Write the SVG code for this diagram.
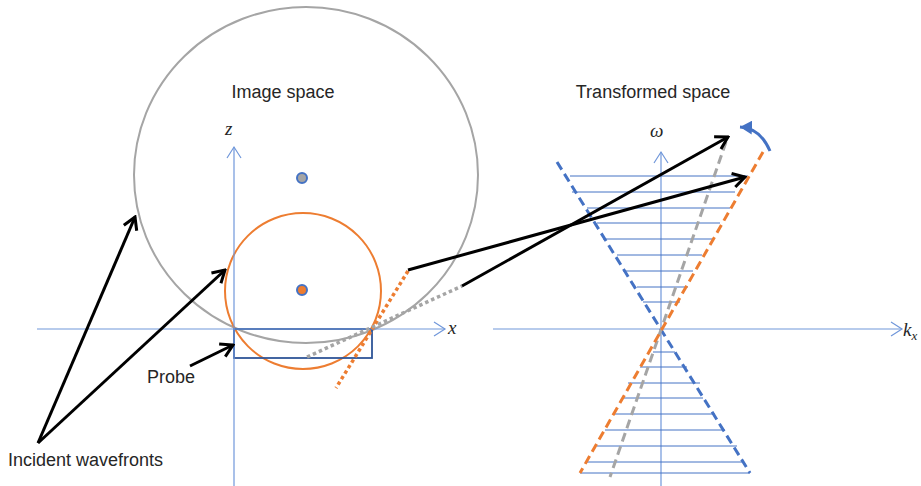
<svg xmlns="http://www.w3.org/2000/svg" width="921" height="486" viewBox="0 0 921 486">
<defs>
<style>
.lbl{font-family:"Liberation Sans",Arial,sans-serif;font-size:18px;fill:#262626}
.math{font-family:"Liberation Serif","DejaVu Serif",serif;font-style:italic;font-size:19px;fill:#262626}
.axis{stroke:#7097DA;stroke-width:1.2;fill:none}
.hl{stroke:#4472C4;stroke-width:1;fill:none}
.blk{stroke:#000;stroke-width:3;fill:none}
.dash{stroke-width:3;stroke-dasharray:9 5;fill:none}
.dot{stroke-width:3.5;stroke-dasharray:3.5 3;fill:none}
</style>
<marker id="axArr" markerUnits="userSpaceOnUse" markerWidth="14" markerHeight="16" refX="12" refY="8" orient="auto">
<path d="M1,1 L12,8 L1,15" fill="none" stroke="#7097DA" stroke-width="1.2"/>
</marker>
<marker id="bkArr" markerUnits="userSpaceOnUse" markerWidth="16" markerHeight="18" refX="14" refY="9" orient="auto">
<path d="M2,2 L14,9 L2,16" fill="none" stroke="#000" stroke-width="3" stroke-linejoin="miter"/>
</marker>
<marker id="blArr" markerUnits="userSpaceOnUse" markerWidth="14" markerHeight="14" refX="12" refY="7" orient="auto">
<path d="M0,0 L12,7 L0,14 Z" fill="#4472C4"/>
</marker>
</defs>

<g id="image-space">
<ellipse id="gray-circle" cx="306" cy="175" rx="172" ry="168" fill="none" stroke="#A5A5A5" stroke-width="2"/>
<circle id="orange-circle" cx="303" cy="291" r="78" fill="none" stroke="#ED7D31" stroke-width="2"/>
<rect id="probe-rect" x="234" y="329" width="138" height="29" fill="none" stroke="#2F5597" stroke-width="1.8"/>
<circle id="gray-dot" cx="302" cy="178" r="5" fill="#A5A5A5" stroke="#4472C4" stroke-width="2"/>
<circle id="orange-dot" cx="302" cy="290" r="5" fill="#ED7D31" stroke="#4472C4" stroke-width="2"/>
<text class="lbl" x="283" y="98" text-anchor="middle">Image space</text>
</g>

<g id="left-axes">
<line class="axis" x1="37" y1="329" x2="445" y2="329" marker-end="url(#axArr)"/>
<line class="axis" x1="234" y1="486" x2="234" y2="147" marker-end="url(#axArr)"/>
<text class="math" x="225" y="135">z</text>
<text class="math" x="448" y="334">x</text>
</g>

<g id="right-axes">
<line class="axis" x1="493" y1="329" x2="902" y2="329" marker-end="url(#axArr)"/>
<line class="axis" x1="661" y1="486" x2="661" y2="152" marker-end="url(#axArr)"/>
<text class="math" x="650" y="137">ω</text>
<text class="math" x="903" y="336">k<tspan font-size="13" dy="4">x</tspan></text>
</g>

<g id="transformed-space">
<text class="lbl" x="653" y="98" text-anchor="middle">Transformed space</text>
<g id="slices">
<line class="hl" x1="570" y1="176" x2="748" y2="176"/>
<line class="hl" x1="572" y1="192" x2="735" y2="192"/>
<line class="hl" x1="587" y1="208" x2="730" y2="208"/>
<line class="hl" x1="597" y1="223" x2="720" y2="223"/>
<line class="hl" x1="603" y1="239" x2="713" y2="239"/>
<line class="hl" x1="617" y1="255" x2="702" y2="255"/>
<line class="hl" x1="623" y1="271" x2="693" y2="271"/>
<line class="hl" x1="637" y1="287" x2="688" y2="287"/>
<line class="hl" x1="643" y1="302" x2="680" y2="302"/>
<line class="hl" x1="653" y1="352" x2="675" y2="352"/>
<line class="hl" x1="640" y1="367" x2="687" y2="367"/>
<line class="hl" x1="628" y1="383" x2="700" y2="383"/>
<line class="hl" x1="622" y1="398" x2="703" y2="398"/>
<line class="hl" x1="613" y1="414" x2="715" y2="414"/>
<line class="hl" x1="605" y1="430" x2="725" y2="430"/>
<line class="hl" x1="597" y1="446" x2="737" y2="446"/>
<line class="hl" x1="587" y1="462" x2="743" y2="462"/>
<line class="hl" x1="580" y1="473" x2="750" y2="473"/>
</g>
<line id="blue-dashed" class="dash" stroke="#4472C4" x1="557" y1="162" x2="750" y2="473"/>
<line id="gray-dashed" class="dash" stroke="#A5A5A5" x1="726" y1="142" x2="610" y2="477"/>
<line id="orange-dashed" class="dash" stroke="#ED7D31" x1="763" y1="152" x2="580" y2="473"/>
<path id="rotate-arrow" d="M770,151 Q760,128 740,127" fill="none" stroke="#4472C4" stroke-width="3" marker-end="url(#blArr)"/>
</g>

<g id="labels">
<text class="lbl" x="147" y="383">Probe</text>
<text class="lbl" x="8" y="466">Incident wavefronts</text>
</g>

<g id="connectors">
<line id="orange-dotted" class="dot" stroke="#ED7D31" x1="408" y1="271" x2="336" y2="388"/>
<line id="gray-dotted" class="dot" stroke="#A5A5A5" x1="307" y1="357" x2="462" y2="286"/>
<line class="blk" x1="408" y1="270" x2="745" y2="177" marker-end="url(#bkArr)"/>
<line class="blk" x1="462" y1="286" x2="728" y2="137" marker-end="url(#bkArr)"/>
<line class="blk" x1="38" y1="443" x2="135" y2="217" marker-end="url(#bkArr)"/>
<line class="blk" x1="38" y1="443" x2="225" y2="270" marker-end="url(#bkArr)"/>
<line class="blk" x1="190" y1="366" x2="233" y2="345" marker-end="url(#bkArr)"/>
</g>
</svg>
